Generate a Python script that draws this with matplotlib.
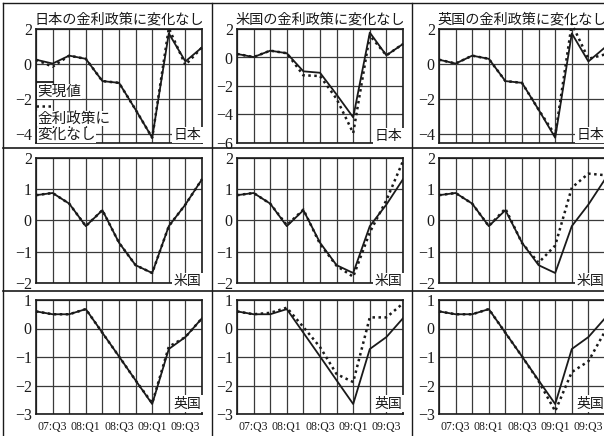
import matplotlib
matplotlib.use("Agg")
import matplotlib.pyplot as plt
from matplotlib.lines import Line2D

quarters = ["07:Q2", "07:Q3", "07:Q4", "08:Q1", "08:Q2", "08:Q3",
            "08:Q4", "09:Q1", "09:Q2", "09:Q3", "09:Q4"]
shown_labels = ["", "07:Q3", "", "08:Q1", "", "08:Q3", "", "09:Q1", "", "09:Q3", ""]

col_titles = ["日本の金利政策に変化なし", "米国の金利政策に変化なし", "英国の金利政策に変化なし"]
row_names = ["日本", "米国", "英国"]

# actual values (実現値) per country
jp_actual = [0.25, 0.03, 0.48, 0.30, -0.97, -1.07, -2.6, -4.2, 1.75, 0.15, 0.95]
us_actual = [0.81, 0.88, 0.54, -0.18, 0.33, -0.71, -1.43, -1.68, -0.18, 0.51, 1.32]
uk_actual = [0.60, 0.50, 0.50, 0.68, -0.15, -0.98, -1.82, -2.65, -0.72, -0.30, 0.36]

# counterfactual: policy rate unchanged in Japan / US / UK
jp_jp = [0.25, -0.15, 0.48, 0.30, -0.97, -1.07, -2.6, -4.2, 2.05, -0.05, 0.95]
jp_us = [0.25, 0.03, 0.48, 0.30, -1.25, -1.30, -2.9, -5.3, 1.55, 0.15, 0.95]
jp_uk = [0.25, 0.03, 0.48, 0.30, -0.97, -1.07, -2.6, -4.05, 2.3, 0.30, 0.55]

us_jp = [0.81, 0.88, 0.54, -0.18, 0.33, -0.71, -1.43, -1.68, -0.18, 0.51, 1.32]
us_us = [0.81, 0.88, 0.54, -0.15, 0.35, -0.75, -1.45, -1.80, -0.38, 0.65, 1.90]
us_uk = [0.81, 0.88, 0.54, -0.18, 0.38, -0.72, -1.35, -0.80, 1.05, 1.50, 1.45]

uk_jp = [0.60, 0.50, 0.50, 0.68, -0.15, -0.98, -1.82, -2.62, -0.64, -0.30, 0.36]
uk_us = [0.60, 0.50, 0.55, 0.73, 0.05, -0.65, -1.60, -1.88, 0.39, 0.39, 0.88]
uk_uk = [0.60, 0.50, 0.50, 0.68, -0.15, -0.98, -1.85, -2.90, -1.53, -1.15, -0.10]

actual_rows = [jp_actual, us_actual, uk_actual]
scen_rows = [[jp_jp, jp_us, jp_uk], [us_jp, us_us, us_uk], [uk_jp, uk_us, uk_uk]]

yticks_grid = [[[2, 0, -2, -4], [2, 0, -2, -4, -6], [2, 0, -2, -4]],
               [[2, 1, 0, -1, -2]] * 3,
               [[1, 0, -1, -2, -3]] * 3]
ylims_grid = [[(-4.5, 2), (-6, 2), (-4.5, 2)],
              [(-2, 2)] * 3,
              [(-3, 1)] * 3]
label_y = [[0.07, 0.06, 0.07], [0.012] * 3, [0.09] * 3]

W, H = 604, 436
fig = plt.figure(figsize=(W / 100, H / 100), dpi=100)
fig.patch.set_facecolor("white")

serif = ["Liberation Serif", "DejaVu Serif"]
cjk = ["Noto Sans CJK JP", "DejaVu Sans"]
ink = "#1a1a1a"

col_left = [36, 237, 439]
col_w = 166
row_top = [29, 158, 300]
row_h = [114, 125, 114]

x = list(range(len(quarters)))

for r in range(3):
    for c in range(3):
        left = col_left[c] / W
        bottom = (H - row_top[r] - row_h[r]) / H
        ax = fig.add_axes([left, bottom, col_w / W, row_h[r] / H])
        ax.set_xlim(0, len(quarters) - 1)
        ax.set_ylim(*ylims_grid[r][c])
        ax.set_yticks(yticks_grid[r][c])
        ax.set_yticklabels([str(v).replace("-", "\u2212") for v in yticks_grid[r][c]],
                           fontfamily=serif, fontsize=11.5, color=ink)
        ax.set_xticks(x)
        if r == 2:
            ax.set_xticklabels(shown_labels, fontfamily=serif, fontsize=8.5, color=ink)
        else:
            ax.set_xticklabels([""] * len(x))
        ax.tick_params(axis="y", length=0, pad=3)
        ax.tick_params(axis="x", length=0, pad=5)
        ax.grid(True, color="#3a3a3a", lw=0.9)
        ax.set_axisbelow(True)
        for s in ax.spines.values():
            s.set_linewidth(1.2)
            s.set_color(ink)
        ax.plot(x, actual_rows[r], color=ink, lw=1.3, zorder=3)
        ax.plot(x, scen_rows[r][c], color=ink, lw=1.8, ls=(0, (1.0, 1.4)),
                zorder=4, clip_on=False)
        ax.text(0.995, label_y[r][c], row_names[r], transform=ax.transAxes,
                ha="right", va="center", fontsize=10, fontfamily=cjk, color=ink,
                bbox=dict(facecolor="white", edgecolor="none", pad=1), zorder=6)
        if r == 0:
            ax.set_title(col_titles[c], fontfamily=cjk, fontsize=10.2, color=ink, pad=4)
        if r == 0 and c == 0:
            # legend drawn inside the first panel
            ax.plot([0, 1], [-1.0, -1.0], color=ink, lw=1.3, zorder=5)
            ax.text(0.08, -1.58, "実現値", fontfamily=cjk, fontsize=10.5, color=ink,
                    va="center", ha="left", zorder=6,
                    bbox=dict(facecolor="white", edgecolor="none", pad=0.3))
            ax.plot([0, 1], [-2.4, -2.4], color=ink, lw=1.8, ls=(0, (1.0, 1.4)), zorder=5)
            ax.text(0.08, -3.1, "金利政策に", fontfamily=cjk, fontsize=10.5,
                    color=ink, va="center", ha="left", zorder=6,
                    bbox=dict(facecolor="white", edgecolor="none", pad=0.3))
            ax.text(0.08, -4.05, "変化なし", fontfamily=cjk, fontsize=10.5,
                    color=ink, va="center", ha="left", zorder=6,
                    bbox=dict(facecolor="white", edgecolor="none", pad=0.3))

# panel frame lines
def fline(x0, y0, x1, y1, lw=1.0):
    fig.add_artist(Line2D([x0 / W, x1 / W], [1 - y0 / H, 1 - y1 / H],
                          color=ink, lw=lw, transform=fig.transFigure))

fline(212, 3, 212, 435)
fline(412, 3, 412, 435)
fline(3, 148, 604, 148, 1.2)
fline(3, 291, 604, 291, 1.2)
fline(3, 3, 604, 3)
fline(3, 3, 3, 435)

fig.savefig("out.png", dpi=100, facecolor="white")
